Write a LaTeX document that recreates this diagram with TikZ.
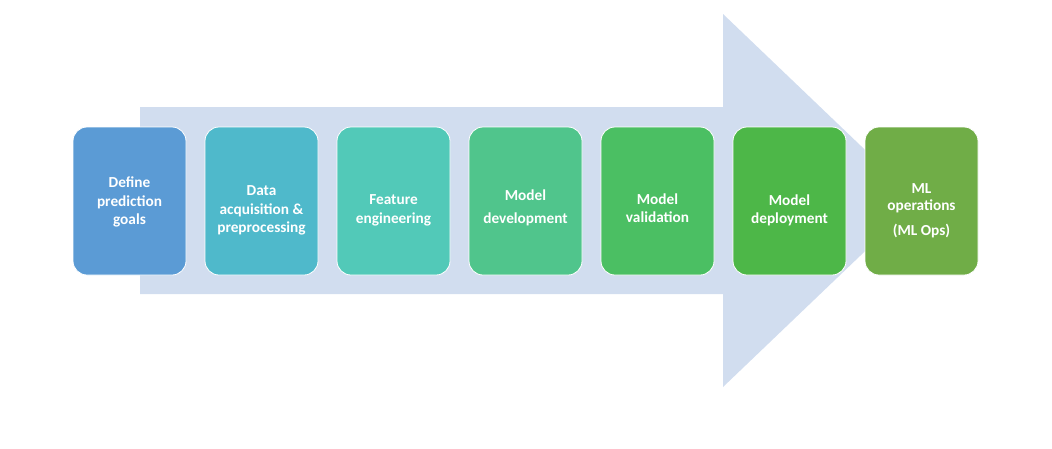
\documentclass[tikz,border=0pt]{standalone}
\usepackage{fontspec}
\setmainfont{Carlito}
\definecolor{arrowc}{HTML}{D1DDEF}
\definecolor{c1}{HTML}{5B9BD5}
\definecolor{c2}{HTML}{4FB9CB}
\definecolor{c3}{HTML}{52C9B8}
\definecolor{c4}{HTML}{50C58C}
\definecolor{c5}{HTML}{4BBF63}
\definecolor{c6}{HTML}{4DB748}
\definecolor{c7}{HTML}{70AD47}
\tikzset{
  stepbox/.style={draw=white, line width=0.8pt, rounded corners=14pt, minimum width=113pt, minimum height=148pt, inner sep=0pt},
  steptext/.style={text=white, align=center, font=\fontsize{15.3}{18.5}\selectfont\bfseries, inner sep=0pt}
}
\begin{document}
\begin{tikzpicture}[x=1pt,y=-1pt]
\useasboundingbox (0,0) rectangle (1052,448);
\fill[arrowc] (140,107) -- (723,107) -- (723,14) -- (918,200.5) -- (723,387) -- (723,294) -- (140,294) -- cycle;
\node[stepbox, fill=c1] (b1) at (129.5,201) {};
\node[stepbox, fill=c2] (b2) at (261.5,201) {};
\node[stepbox, fill=c3] (b3) at (393.5,201) {};
\node[stepbox, fill=c4] (b4) at (525.5,201) {};
\node[stepbox, fill=c5] (b5) at (657.5,201) {};
\node[stepbox, fill=c6] (b6) at (789.5,201) {};
\node[stepbox, fill=c7] (b7) at (921.5,201) {};
\node[steptext] (t1) at ([yshift=-1pt]b1.center) {Define\\prediction\\goals};
\node[steptext] (t2) at ([yshift=-9.5pt]b2.center) {Data\\acquisition \&\\preprocessing};
\node[steptext] (t3) at ([yshift=-9.5pt]b3.center) {Feature\\engineering};
\node[steptext] (t4) at ([yshift=-7pt]b4.center) {Model\\[5pt]development};
\node[steptext] (t5) at ([yshift=-7pt]b5.center) {Model\\validation};
\node[steptext] (t6) at ([yshift=-9.5pt]b6.center) {Model\\deployment};
\node[steptext] (t7) at ([yshift=-10pt]b7.center) {ML\\[-2pt]operations\\[7pt](ML Ops)};
\end{tikzpicture}
\end{document}
